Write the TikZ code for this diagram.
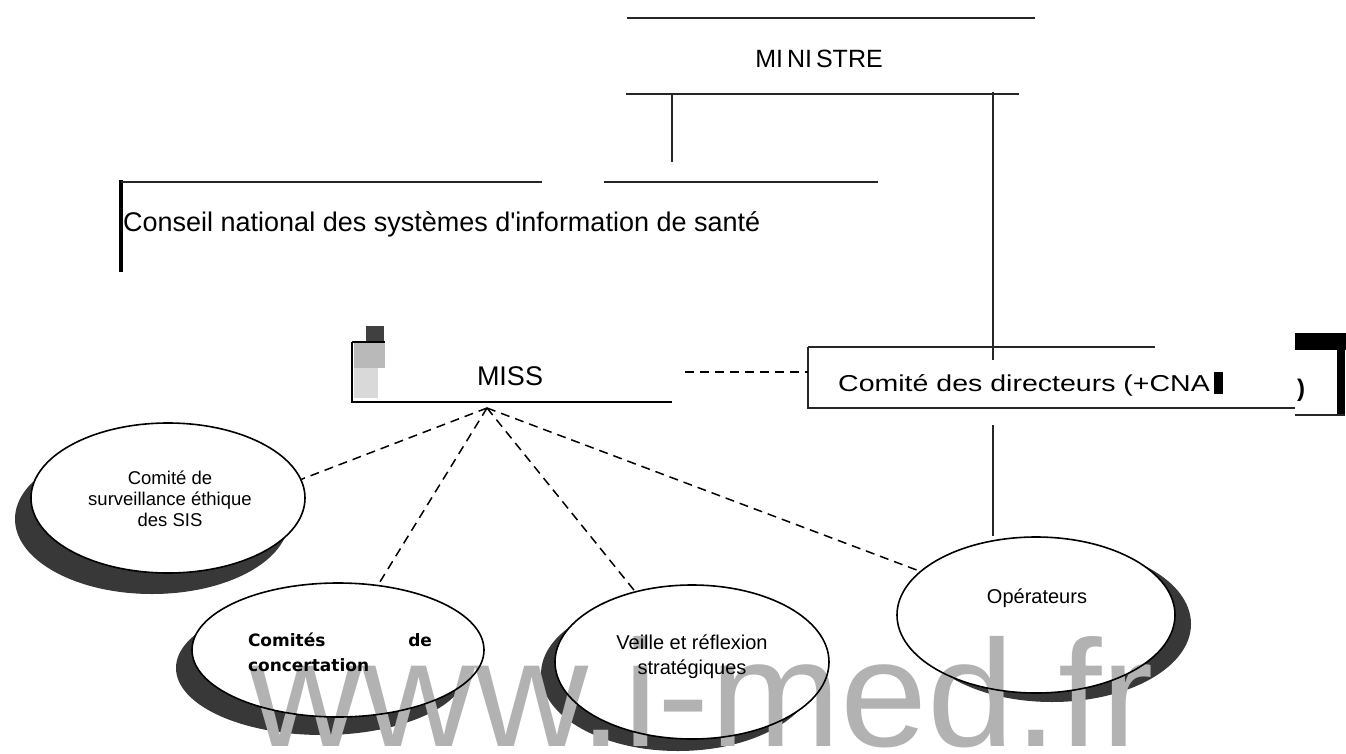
\documentclass[tikz,border=0pt]{standalone}
\usepackage{fontspec}
\setmainfont{Liberation Sans}[Ligatures=TeXOff]
\newfontfamily\dejavu{DejaVu Sans}
\usetikzlibrary{shapes.geometric,calc}
\definecolor{wm}{RGB}{178,178,178}
\begin{document}
\begin{tikzpicture}[x=1pt,y=-1pt,
  ln/.style={line width=1.6pt, black!85},
  dsh/.style={line width=1.5pt, dash pattern=on 9pt off 6pt},
  oval/.style={ellipse, draw, line width=1.6pt, inner sep=0pt},
  shad/.style={fill=black!78},
  lbl/.style={inner sep=0pt}]
\fill[white] (0,0) rectangle (1346,754);
\useasboundingbox (0,0) rectangle (1346,754);

% MINISTRE
\node[lbl, font=\fontsize{25}{30}\selectfont] (min) at (819,59) {MI\hspace{4pt}NI\hspace{4pt}STRE};
\draw[ln] (627,18) -- (1035,18);
\draw[ln] (626,94) -- (1019,94);
\coordinate (minL) at (672,94);
\coordinate (cnsT) at (672,162);
\coordinate (minR) at (993,92);
\coordinate (cdirT) at (993,360);
\draw[ln] (minL) -- (cnsT);
\draw[ln] (minR) -- (cdirT);

% Conseil
\draw[line width=3.5pt] (121,180) -- (121,272);
\draw[ln] (121,182) -- (542,182);
\draw[ln] (604,182) -- (878,182);
\node[lbl, anchor=base west, font=\fontsize{27}{30}\selectfont] (cns) at (123,231) {Conseil national des systèmes d'information de santé};

% MISS
\fill[black!75] (366,326) rectangle (384,343);
\fill[gray!55] (354,343) rectangle (385,368);
\fill[gray!30] (354,368) rectangle (378,398);
\draw[line width=1.2pt] (352,342) -- (385,342);
\draw[line width=2pt] (352,342) -- (352,402) -- (672,402);
\node[lbl, anchor=base, font=\fontsize{27}{30}\selectfont] (miss) at (510,385) {MISS};

% Comite des directeurs
\draw[ln] (808,347) -- (1155,347);
\draw[ln] (808,347) -- (808,408) -- (1295,408);
\node[lbl, anchor=base west, font=\fontsize{23}{28}\selectfont] (cdir) at (838,391) {\scalebox{1.24}[1]{Comité des directeurs (+CNA}};
\fill (1214,372) rectangle (1223,394);
\fill (1295,333) rectangle (1346,350);
\fill (1337,333) rectangle (1345,415);
\draw[ln] (1295,415) -- (1345,415);
\node[lbl, font=\bfseries\fontsize{24}{28}\selectfont] (paren) at (1301,390) {)};

% dashed link MISS -- Comite
\coordinate (missR) at (685,372);
\coordinate (cdirL) at (808,372);
\draw[dsh] (missR) -- (cdirL);

% shadows
\fill[shad] (152,519) ellipse [x radius=137pt, y radius=75pt];
\fill[shad] (322,668) ellipse [x radius=146pt, y radius=67pt];
\fill[shad] (678,674) ellipse [x radius=137pt, y radius=77pt];
\fill[shad] (1052,624) ellipse [x radius=139pt, y radius=78pt];

% ellipse fills
\fill[white] (168,498) ellipse [x radius=137pt, y radius=75pt];
\fill[white] (338,650) ellipse [x radius=146pt, y radius=67pt];
\fill[white] (692,662) ellipse [x radius=137pt, y radius=77pt];
\fill[white] (1036,615) ellipse [x radius=139pt, y radius=78pt];

% watermark
\node[lbl, anchor=base west, text=wm, font=\fontsize{152}{152}\selectfont] (wmk) at (249,746) {\scalebox{1.03}[1]{www.i-med.fr}};

% ellipses
\node[oval, minimum width=274pt, minimum height=150pt] (e1) at (168,498) {};
\node[oval, minimum width=292pt, minimum height=134pt] (e2) at (338,650) {};
\node[oval, minimum width=274pt, minimum height=154pt] (e3) at (692,662) {};
\node[oval, minimum width=278pt, minimum height=156pt] (e4) at (1036,615) {};

% texts in ellipses
\node[lbl, align=center, font=\fontsize{18.5}{21}\selectfont] (t1) at (170,499) {Comité de\\surveillance éthique\\des SIS};
\node[lbl, align=left, text width=184pt, font=\dejavu\bfseries\fontsize{17}{25}\selectfont] (t2) at (340,652) {\makebox[184pt][l]{Comités\hfill de}\\concertation};
\node[lbl, align=center, font=\fontsize{20}{25}\selectfont] (t3) at (692,657) {Veille et réflexion\\stratégiques};
\node[lbl, font=\fontsize{20}{24}\selectfont] (t4) at (1037,598) {Opérateurs};

% connectors
\coordinate (apex) at (487,408);
\draw[dsh] (apex) -- (e1.8);
\draw[dsh] (apex) -- (e2);
\draw[dsh] (apex) -- (e3);
\draw[dsh] (apex) -- (e4);
\coordinate (cdirB) at (993,425);
\draw[ln] (cdirB) -- (e4.north -| cdirB);
\end{tikzpicture}
\end{document}
